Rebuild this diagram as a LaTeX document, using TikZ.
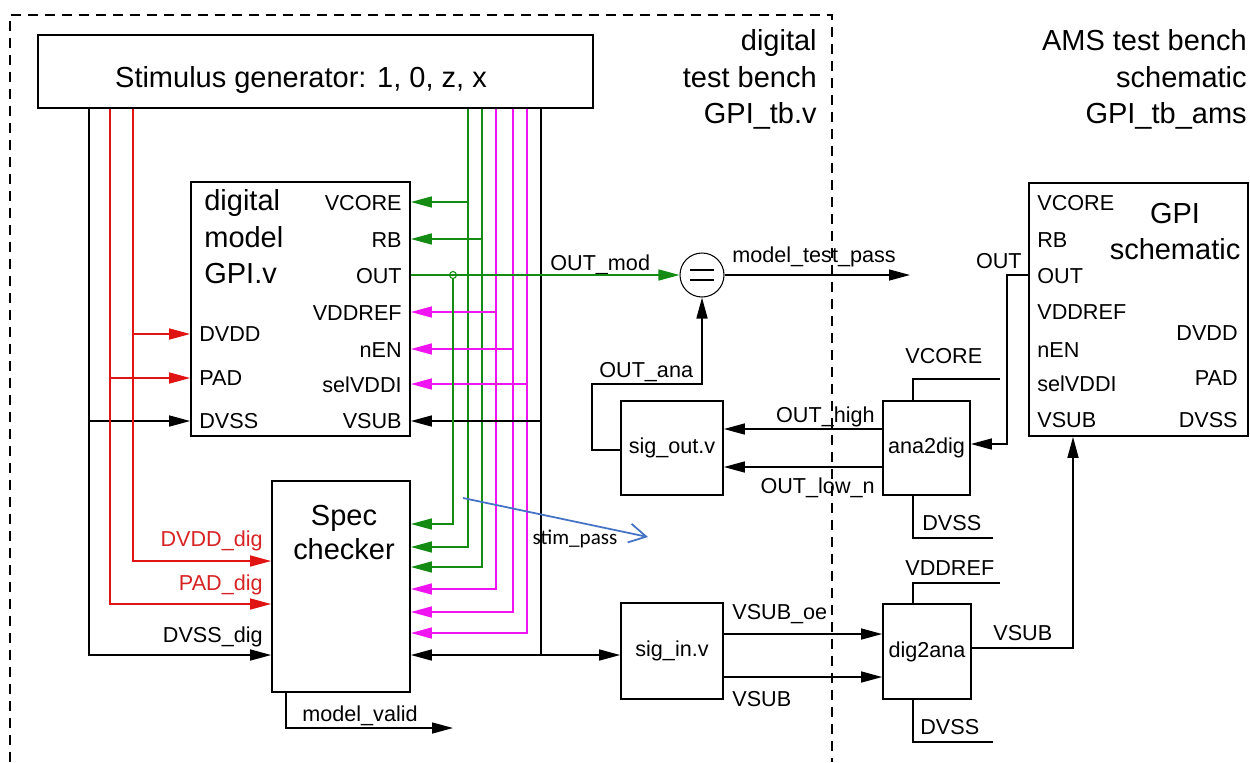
\documentclass[tikz,border=0pt]{standalone}
\usepackage{fontspec}
\setmainfont{Liberation Sans}
\newfontfamily\calibrifont{Carlito}
\usepackage{tikz}
\usetikzlibrary{arrows.meta}
\definecolor{wgreen}{RGB}{20,140,20}
\definecolor{wred}{RGB}{225,20,20}
\definecolor{wmag}{RGB}{240,20,240}
\definecolor{lred}{RGB}{215,35,35}
\definecolor{passblue}{RGB}{68,114,196}

\begin{document}
\begin{tikzpicture}[x=0.02cm, y=-0.02cm,
    box/.style={draw, line width=1pt, inner sep=2pt, font=\fontsize{12.3}{14}\selectfont},
    pin/.style={inner sep=0pt, font=\fontsize{12.3}{14}\selectfont},
    big/.style={inner sep=0pt, font=\fontsize{16.5}{19}\selectfont},
    wire/.style={line width=0.85pt},
    arrow/.style={wire, -{Triangle[length=0.42cm, width=0.22cm]}},
    both/.style={wire, {Triangle[length=0.42cm, width=0.22cm]}-{Triangle[length=0.42cm, width=0.22cm]}}
  ]
    \useasboundingbox (0,0) rectangle (1250,762);
    \draw[line width=0.6pt, dash pattern=on 0.2cm off 0.14cm] (10,762) -- (10,15) -- (832,15) -- (832,762);

    \node[big, anchor=base east] (tbline1) at (817,50) {digital};
    \node[big, anchor=base east] (tbline2) at (817,87) {test bench};
    \node[big, anchor=base east] (tbline3) at (817,123) {GPI\_tb.v};
    \node[big, anchor=base east] (amsline1) at (1247,50) {AMS test bench};
    \node[big, anchor=base east] (amsline2) at (1247,87) {schematic};
    \node[big, anchor=base east] (amsline3) at (1247,123) {GPI\_tb\_ams};

    \node[box, minimum width=11.1cm, minimum height=1.46cm] (stim) at (315.5,71.5) {};
    \node[big, anchor=base] (stimtext) at (301,87) {Stimulus generator: 1, 0, z, x};

    \node[box, minimum width=4.38cm, minimum height=5.08cm] (gpiv) at (300.5,309) {};
    \node[big, anchor=base west] (gpivt1) at (204,210) {digital};
    \node[big, anchor=base west] (gpivt2) at (204,247) {model};
    \node[big, anchor=base west] (gpivt3) at (204,283) {GPI.v};
    \node[pin, anchor=base east] (gpivcore) at (402,210) {VCORE};
    \node[pin, anchor=base east] (gpivrb) at (402,247) {RB};
    \node[pin, anchor=base east] (gpivout) at (402,283) {OUT};
    \node[pin, anchor=base east] (gpivref) at (402,320) {VDDREF};
    \node[pin, anchor=base east] (gpiven) at (402,357) {nEN};
    \node[pin, anchor=base east] (gpivsel) at (402,392) {selVDDI};
    \node[pin, anchor=base east] (gpivsub) at (402,428) {VSUB};
    \node[pin, anchor=base west] (gpivdvdd) at (199,341) {DVDD};
    \node[pin, anchor=base west] (gpivpad) at (199,385) {PAD};
    \node[pin, anchor=base west] (gpivdvss) at (199,428) {DVSS};

    \node[box, minimum width=2.76cm, minimum height=4.22cm] (spec) at (341,586.5) {};
    \node[big, anchor=base] (spect1) at (344,525) {Spec};
    \node[big, anchor=base] (spect2) at (344,559) {checker};
    \node[pin, anchor=base east, text=lred] (dvdddig) at (263,546) {DVDD\_dig};
    \node[pin, anchor=base east, text=lred] (paddig) at (263,590) {PAD\_dig};
    \node[pin, anchor=base east] (dvssdig) at (263,642) {DVSS\_dig};
    \node[pin, anchor=base west] (mvtext) at (302,721) {model\_valid};

    \node[draw, circle, line width=0.6pt, minimum size=0.88cm, inner sep=0pt] (cmp) at (702,275) {};
    \draw[line width=1.1pt] ([xshift=-0.24cm, yshift=0.1cm]cmp.center) -- ([xshift=0.24cm, yshift=0.1cm]cmp.center);
    \draw[line width=1.1pt] ([xshift=-0.24cm, yshift=-0.1cm]cmp.center) -- ([xshift=0.24cm, yshift=-0.1cm]cmp.center);
    \node[pin, anchor=base west] (outmod) at (550,270) {OUT\_mod};
    \node[pin, anchor=base west] (mtptext) at (732,262) {model\_test\_pass};
    \node[pin, anchor=base west] (outana) at (599,377) {OUT\_ana};

    \node[box, minimum width=2.04cm, minimum height=1.88cm] (sigout) at (672,448) {sig\_out.v};
    \node[box, minimum width=1.74cm, minimum height=1.88cm] (ana) at (926.5,448) {ana2dig};
    \node[pin, anchor=base east] (outhigh) at (875,422) {OUT\_high};
    \node[pin, anchor=base east] (outlow) at (875,493) {OUT\_low\_n};
    \node[pin, anchor=base west] (anacore) at (905,363) {VCORE};
    \node[pin, anchor=base west] (anadvss) at (922,530) {DVSS};

    \node[box, minimum width=2.04cm, minimum height=1.92cm] (sigin) at (672,651) {sig\_in.v};
    \node[box, minimum width=1.76cm, minimum height=1.9cm] (dig) at (927,651.5) {dig2ana};
    \node[pin, anchor=base west] (subeo) at (732,619) {VSUB\_oe};
    \node[pin, anchor=base west] (subin) at (732,706) {VSUB};
    \node[pin, anchor=base west] (digref) at (905,575) {VDDREF};
    \node[pin, anchor=base west] (digdvss) at (920,734) {DVSS};
    \node[pin, anchor=base west] (digsub) at (993,640) {VSUB};

    \node[box, minimum width=4.38cm, minimum height=5.06cm] (gpis) at (1138.5,309.5) {};
    \node[big, anchor=base] (gpist1) at (1175,223) {GPI};
    \node[big, anchor=base] (gpist2) at (1175,259) {schematic};
    \node[pin, anchor=base west] (gpiscore) at (1037,210) {VCORE};
    \node[pin, anchor=base west] (gpisrb) at (1037,247) {RB};
    \node[pin, anchor=base west] (gpisout) at (1037,283) {OUT};
    \node[pin, anchor=base west] (gpisref) at (1037,319) {VDDREF};
    \node[pin, anchor=base west] (gpisen) at (1037,357) {nEN};
    \node[pin, anchor=base west] (gpissel) at (1037,391) {selVDDI};
    \node[pin, anchor=base west] (gpissub) at (1037,427) {VSUB};
    \node[pin, anchor=base east] (gpisdvdd) at (1238,340) {DVDD};
    \node[pin, anchor=base east] (gpispad) at (1238,385) {PAD};
    \node[pin, anchor=base east] (gpisdvss) at (1238,427) {DVSS};
    \node[pin, anchor=base east] (outside) at (1022,268) {OUT};

    \coordinate (mtpend) at (910,275);
    \coordinate (mvend) at (453,728);
    \coordinate (anatop) at (1000,379);
    \coordinate (anabot) at (993,538);
    \coordinate (digtop) at (1000,583);
    \coordinate (digbot) at (993,742);
    \coordinate (passfrom) at (463,498);
    \coordinate (passto) at (648,537);

    \draw[arrow] (stim.south -| 89,0) -- (89,655) -- (spec.west |- 0,655);
    \draw[arrow] (89,421) -- (gpiv.west |- 0,421);
    \draw[arrow, wred] (stim.south -| 110,0) -- (110,604) -- (spec.west |- 0,604);
    \draw[arrow, wred] (110,378) -- (gpiv.west |- 0,378);
    \draw[arrow, wred] (stim.south -| 133,0) -- (133,561) -- (spec.west |- 0,561);
    \draw[arrow, wred] (133,334) -- (gpiv.west |- 0,334);

    \draw[arrow, wgreen] (stim.south -| 468,0) -- (468,547) -- (spec.east |- 0,547);
    \draw[arrow, wgreen] (468,202) -- (gpiv.east |- 0,202);
    \draw[arrow, wgreen] (stim.south -| 482,0) -- (482,567) -- (spec.east |- 0,567);
    \draw[arrow, wgreen] (482,239) -- (gpiv.east |- 0,239);
    \draw[arrow, wmag] (stim.south -| 496,0) -- (496,589) -- (spec.east |- 0,589);
    \draw[arrow, wmag] (496,312) -- (gpiv.east |- 0,312);
    \draw[arrow, wmag] (stim.south -| 513,0) -- (513,612) -- (spec.east |- 0,612);
    \draw[arrow, wmag] (513,349) -- (gpiv.east |- 0,349);
    \draw[arrow, wmag] (stim.south -| 527,0) -- (527,633) -- (spec.east |- 0,633);
    \draw[arrow, wmag] (527,384) -- (gpiv.east |- 0,384);
    \draw[wire] (stim.south -| 541,0) -- (541,655);
    \draw[arrow] (541,421) -- (gpiv.east |- 0,421);
    \draw[both] (spec.east |- 0,655) -- (sigin.west |- 0,655);

    \draw[arrow, wgreen] (gpiv.east |- 0,275) -- (cmp.west);
    \node[circle, draw=wgreen, line width=0.6pt, inner sep=0pt, minimum size=0.14cm] (tap) at (453,275) {};
    \draw[arrow, wgreen] (tap.south) -- (453,524) -- (spec.east |- 0,524);
    \draw[arrow] (spec.south -| 286,0) -- (286,728) -- (mvend);

    \draw[arrow] (cmp.east) -- (mtpend);
    \draw[arrow] (sigout.west |- 0,450) -- (592,450) -- (592,384) -- (cmp.south |- 0,384) -- (cmp.south);
    \draw[arrow] (ana.west |- 0,429) -- (sigout.east |- 0,429);
    \draw[arrow] (ana.west |- 0,467) -- (sigout.east |- 0,467);
    \draw[wire] (ana.north -| 913,0) -- (913,379) -- (anatop);
    \draw[wire] (ana.south -| 913,0) -- (913,538) -- (anabot);
    \draw[arrow] (gpis.west |- 0,275) -- (1007,275) -- (1007,444) -- (ana.east |- 0,444);

    \draw[arrow] (sigin.east |- 0,634) -- (dig.west |- 0,634);
    \draw[arrow] (sigin.east |- 0,677) -- (dig.west |- 0,677);
    \draw[wire] (dig.north -| 913,0) -- (913,583) -- (digtop);
    \draw[wire] (dig.south -| 913,0) -- (913,742) -- (digbot);
    \draw[arrow] (dig.east |- 0,648) -- (1073,648) -- (gpis.south -| 1073,0);

    \draw[passblue, line width=1pt, -{Straight Barb[length=0.34cm, width=0.38cm]}] (passfrom) -- (passto);
    \node[inner sep=0pt, font=\calibrifont\fontsize{12}{14}\selectfont, anchor=base] (passtext) at (575,544) {stim\_pass};
  \end{tikzpicture}
\end{document}
